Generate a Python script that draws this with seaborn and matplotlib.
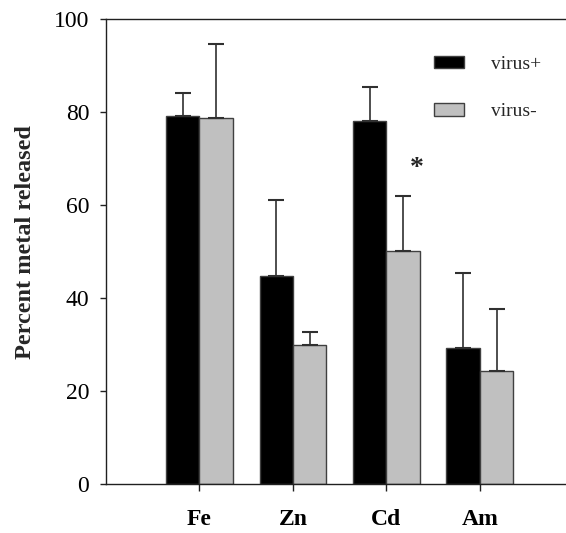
import numpy as np
import pandas as pd
import seaborn as sns
import matplotlib
matplotlib.use("Agg")
import matplotlib.pyplot as plt
from matplotlib.patches import Patch

# Metal release data
metals = ["Fe", "Zn", "Cd", "Am"]
groups = ["virus+", "virus-"]
virus_pos = [79.2, 44.9, 78.1, 29.4]
virus_neg = [78.8, 30.0, 50.1, 24.4]
err_pos = [5.0, 16.2, 7.4, 16.1]
err_neg = [15.9, 2.8, 11.8, 13.4]
y_ticks = [0, 20, 40, 60, 80, 100]

df = pd.DataFrame({
    "metal": metals * 2,
    "group": [groups[0]] * 4 + [groups[1]] * 4,
    "value": virus_pos + virus_neg,
    "err": err_pos + err_neg,
})

sns.set_style("white")
plt.rcParams["font.family"] = ["Liberation Serif", "DejaVu Serif"]

fig = plt.figure(figsize=(5.66, 5.33), dpi=100)
ax = fig.add_axes([106 / 566, 48.7 / 533, (573.3 - 106) / 566, 465 / 533])

palette = {"virus+": "#000000", "virus-": "#c0c0c0"}
sns.barplot(data=df, x="metal", y="value", hue="group", order=metals,
            hue_order=groups, palette=palette, width=0.714, gap=0,
            errorbar=None, edgecolor="#404040", linewidth=1.0,
            legend=False, ax=ax)

# Upper-only error bars placed on each drawn bar
for cont, errs in zip(ax.containers, [err_pos, err_neg]):
    xs = [p.get_x() + p.get_width() / 2 for p in cont.patches]
    hs = [p.get_height() for p in cont.patches]
    ax.errorbar(xs, hs, yerr=[np.zeros(len(errs)), errs], fmt="none",
                ecolor="#303030", elinewidth=1.2, capsize=6, capthick=1.5,
                zorder=1)

# Significance marker above Cd (virus-)
ax.text(2.32, 68.0, "*", ha="center", va="center", fontsize=20,
        fontweight="bold")

ax.set_xlim(-1, 4)
ax.set_ylim(0, 100)
ax.set_yticks(y_ticks)
ax.set_yticklabels([str(t) for t in y_ticks], fontsize=17)
ax.set_xticks(range(len(metals)))
ax.set_xticklabels(metals, fontsize=17, fontweight="bold")
ax.set_xlabel("")
ax.set_ylabel("Percent metal released", fontsize=17.5, fontweight="bold")
ax.yaxis.set_label_coords(-0.15, 0.52)

for side in ["left", "bottom", "top"]:
    ax.spines[side].set_visible(True)
    ax.spines[side].set_color("#202020")
    ax.spines[side].set_linewidth(1.0)
ax.spines["right"].set_visible(False)

ax.tick_params(axis="y", direction="out", length=4, width=1, pad=8,
               left=True, colors="#202020", labelcolor="black")
ax.tick_params(axis="x", direction="out", length=5, width=1, pad=13,
               bottom=True, colors="#202020", labelcolor="black")

handles = [Patch(facecolor=palette[g], edgecolor="#404040", label=g)
           for g in groups]
ax.legend(handles=handles, loc="upper left", bbox_to_anchor=(0.664, 0.959),
          frameon=False, fontsize=14, handlelength=1.55, handleheight=0.62,
          handletextpad=1.41, labelspacing=1.55)

fig.savefig("out.png", dpi=100)
